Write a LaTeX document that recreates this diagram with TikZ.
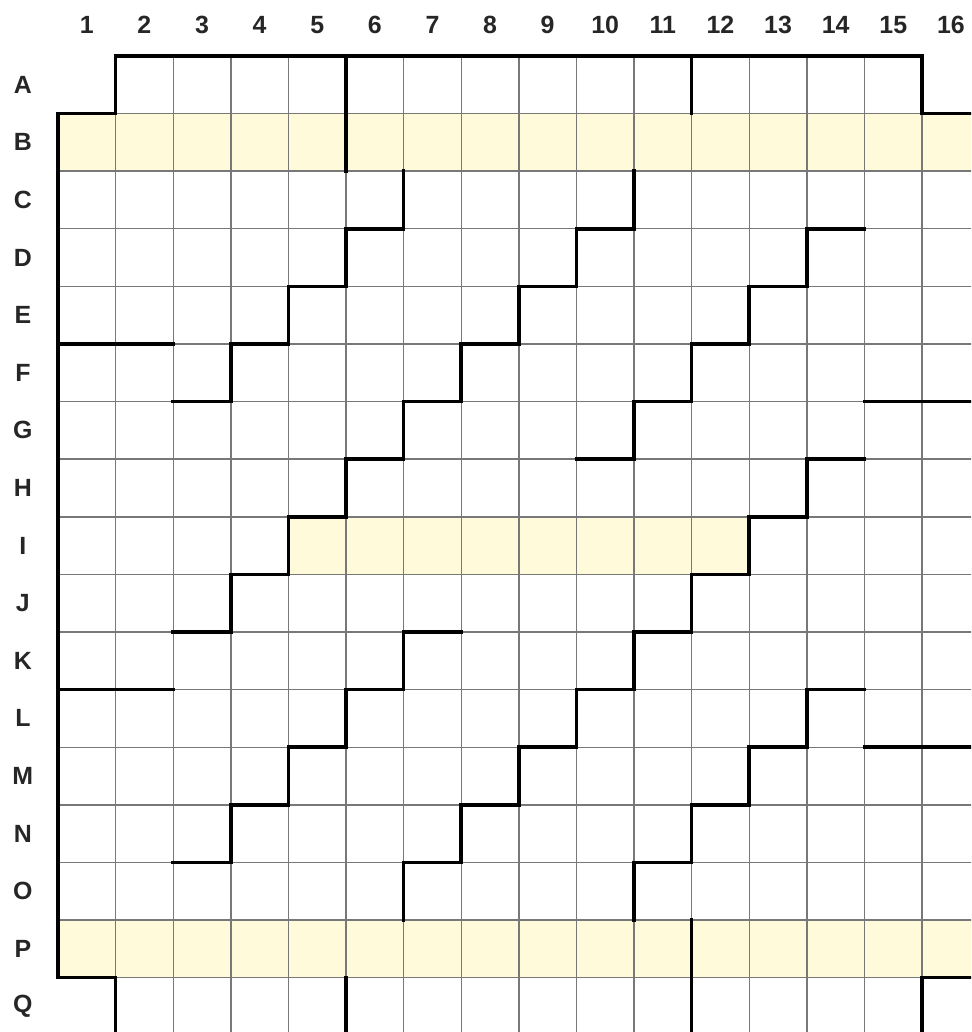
\documentclass[tikz,border=0pt]{standalone}
\usepackage{fontspec}
\setmainfont{Liberation Sans}
\definecolor{hl}{RGB}{254,250,218}
\definecolor{gridc}{RGB}{120,120,120}
\begin{document}
\begin{tikzpicture}[x=1cm,y=-1cm,
  gridline/.style={draw=gridc,line width=0.7pt},
  bold/.style={draw=black,line width=1.8pt,line join=miter,line cap=rect},
  lab/.style={font=\bfseries\fontsize{12.3}{14}\selectfont,text=black!85,inner sep=0pt}]
\useasboundingbox (-1.007,-0.972) rectangle (15.851,16.944);
\begin{scope}
\clip (-1.007,-0.972) rectangle (15.851,16.944);
% highlighted rows
\fill[hl] (0,1) rectangle (16.5,2);
\fill[hl] (4,8) rectangle (12,9);
\fill[hl] (0,15) rectangle (16.5,16);
% grid
\foreach \ci in {1,...,15} \draw[gridline] (\ci,0) -- (\ci,17.5);
\draw[gridline] (16,1) -- (16,16);
\foreach \rj in {1,...,16} \draw[gridline] (0,\rj) -- (16.5,\rj);
% outline
\draw[bold] (16.5,1) -- (15,1) -- (15,0) -- (1,0) -- (1,1) -- (0,1) -- (0,16) -- (1,16) -- (1,17.5);
\draw[bold] (15,17.5) -- (15,16) -- (16.5,16);
\draw[bold] (5,0) -- (5,2);
\draw[bold] (11,0) -- (11,1);
\draw[bold] (5,16) -- (5,17.5);
\draw[bold] (11,15) -- (11,17.5);
% staircases
\draw[bold] (6,2) -- (6,3) -- (5,3) -- (5,4) -- (4,4) -- (4,5) -- (3,5) -- (3,6) -- (2,6);
\draw[bold] (0,5) -- (2,5);
\draw[bold] (10,2) -- (10,3) -- (9,3) -- (9,4) -- (8,4) -- (8,5) -- (7,5) -- (7,6) -- (6,6) -- (6,7) -- (5,7) -- (5,8) -- (4,8) -- (4,9) -- (3,9) -- (3,10) -- (2,10);
\draw[bold] (14,3) -- (13,3) -- (13,4) -- (12,4) -- (12,5) -- (11,5) -- (11,6) -- (10,6) -- (10,7) -- (9,7);
\draw[bold] (14,7) -- (13,7) -- (13,8) -- (12,8) -- (12,9) -- (11,9) -- (11,10) -- (10,10) -- (10,11) -- (9,11) -- (9,12) -- (8,12) -- (8,13) -- (7,13) -- (7,14) -- (6,14) -- (6,15);
\draw[bold] (7,10) -- (6,10) -- (6,11) -- (5,11) -- (5,12) -- (4,12) -- (4,13) -- (3,13) -- (3,14) -- (2,14);
\draw[bold] (0,11) -- (2,11);
\draw[bold] (14,11) -- (13,11) -- (13,12) -- (12,12) -- (12,13) -- (11,13) -- (11,14) -- (10,14) -- (10,15);
\draw[bold] (14,6) -- (16.5,6);
\draw[bold] (14,12) -- (16.5,12);
\end{scope}
% labels
\foreach \ci in {1,...,16} \node[lab] (col\ci) at (\ci-0.5,-0.54) {\ci};
\foreach \rj/\rl in {1/A,2/B,3/C,4/D,5/E,6/F,7/G,8/H,9/I,10/J,11/K,12/L,13/M,14/N,15/O,16/P,17/Q}
  \node[lab] (row\rl) at (-0.61,\rj-0.5) {\rl};
\end{tikzpicture}
\end{document}
